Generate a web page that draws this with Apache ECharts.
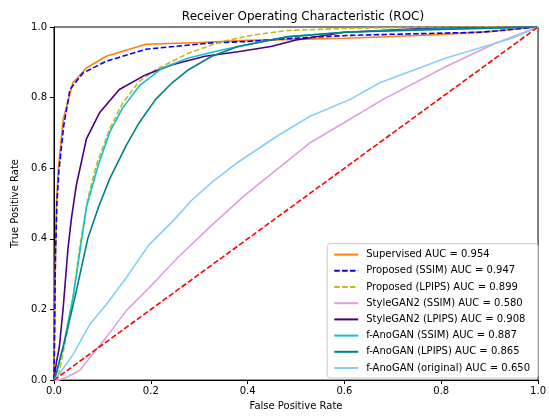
<!DOCTYPE html>
<html>
<head>
<meta charset="utf-8">
<script src="https://cdn.jsdelivr.net/npm/echarts@6/dist/echarts.min.js"></script>
<style>html,body{margin:0;padding:0;background:#fff}#c{width:549px;height:416px}</style>
</head>
<body>
<div id="c"></div>
<script>
const xTicks = [0, 0.2, 0.4, 0.6, 0.8, 1.0];
const yTicks = [0, 0.2, 0.4, 0.6, 0.8, 1.0];

const seriesNames = [
  'Supervised AUC = 0.954',
  'Proposed (SSIM) AUC = 0.947',
  'Proposed (LPIPS) AUC = 0.899',
  'StyleGAN2 (SSIM) AUC = 0.580',
  'StyleGAN2 (LPIPS) AUC = 0.908',
  'f-AnoGAN (SSIM) AUC = 0.887',
  'f-AnoGAN (LPIPS) AUC = 0.865',
  'f-AnoGAN (original) AUC = 0.650'
];

const fprSupervised = [0, 0.003, 0.005, 0.009, 0.019, 0.039, 0.067, 0.108, 0.19, 0.3, 0.4, 0.5, 0.6, 0.7, 0.8, 0.9, 1];
const tprSupervised = [0, 0.35, 0.5, 0.598, 0.739, 0.842, 0.884, 0.917, 0.951, 0.956, 0.962, 0.965, 0.968, 0.973, 0.979, 0.987, 1];

const fprPropSSIM = [0, 0.003, 0.006, 0.01, 0.02, 0.033, 0.06, 0.108, 0.19, 0.325, 0.401, 0.469, 0.605, 0.81, 0.88, 1];
const tprPropSSIM = [0, 0.35, 0.5, 0.59, 0.72, 0.823, 0.87, 0.903, 0.937, 0.955, 0.959, 0.966, 0.976, 0.983, 0.985, 1];

const fprPropLPIPS = [0, 0.006, 0.012, 0.026, 0.04, 0.053, 0.07, 0.087, 0.115, 0.142, 0.176, 0.21, 0.278, 0.346, 0.415, 0.483, 0.6, 0.75, 1];
const tprPropLPIPS = [0, 0.0, 0.03, 0.13, 0.24, 0.374, 0.514, 0.607, 0.711, 0.785, 0.846, 0.879, 0.926, 0.959, 0.978, 0.99, 0.996, 0.999, 1];

const fprStyleSSIM = [0, 0.01, 0.026, 0.053, 0.08, 0.108, 0.149, 0.196, 0.258, 0.326, 0.394, 0.462, 0.53, 0.599, 0.68, 0.81, 0.912, 1];
const tprStyleSSIM = [0, 0.0, 0.008, 0.027, 0.074, 0.121, 0.196, 0.261, 0.35, 0.439, 0.523, 0.598, 0.673, 0.729, 0.795, 0.888, 0.954, 1];

const fprStyleLPIPS = [0, 0.005, 0.011, 0.019, 0.029, 0.036, 0.046, 0.067, 0.094, 0.135, 0.19, 0.244, 0.312, 0.38, 0.448, 0.5, 0.6, 0.75, 1];
const tprStyleLPIPS = [0, 0.05, 0.093, 0.205, 0.374, 0.458, 0.551, 0.683, 0.757, 0.823, 0.865, 0.893, 0.917, 0.93, 0.945, 0.963, 0.985, 0.995, 1];

const fprAnoSSIM = [0, 0.005, 0.02, 0.04, 0.067, 0.091, 0.115, 0.142, 0.176, 0.224, 0.278, 0.346, 0.415, 0.483, 0.6, 0.75, 1];
const tprAnoSSIM = [0, 0.02, 0.1, 0.24, 0.49, 0.607, 0.702, 0.771, 0.833, 0.884, 0.912, 0.935, 0.954, 0.973, 0.985, 0.993, 1];

const fprAnoLPIPS = [0, 0.005, 0.02, 0.043, 0.07, 0.092, 0.115, 0.149, 0.176, 0.21, 0.244, 0.278, 0.326, 0.38, 0.448, 0.483, 0.6, 0.8, 1];
const tprAnoLPIPS = [0, 0.02, 0.1, 0.233, 0.402, 0.49, 0.57, 0.664, 0.729, 0.795, 0.842, 0.879, 0.917, 0.945, 0.963, 0.972, 0.985, 0.993, 1];

const fprAnoOrig = [0, 0.01, 0.04, 0.074, 0.108, 0.149, 0.196, 0.244, 0.285, 0.326, 0.38, 0.462, 0.53, 0.612, 0.673, 0.81, 0.946, 1];
const tprAnoOrig = [0, 0.015, 0.074, 0.158, 0.214, 0.289, 0.383, 0.448, 0.51, 0.56, 0.617, 0.692, 0.748, 0.795, 0.842, 0.912, 0.968, 1];

const fprChance = [0, 1];
const tprChance = [0, 1];

const colors = ['#ff7f0e', '#0000ff', '#bcbd22', '#dda0dd', '#4b0082', '#17becf', '#008080', '#87cefa'];
const dashed = [false, true, true, false, false, false, false, false];
const fprs = [fprSupervised, fprPropSSIM, fprPropLPIPS, fprStyleSSIM, fprStyleLPIPS, fprAnoSSIM, fprAnoLPIPS, fprAnoOrig];
const tprs = [tprSupervised, tprPropSSIM, tprPropLPIPS, tprStyleSSIM, tprStyleLPIPS, tprAnoSSIM, tprAnoLPIPS, tprAnoOrig];

const FONT = 'DejaVu Sans';
const series = seriesNames.map((n, i) => ({
  name: n,
  type: 'line',
  symbol: 'none',
  data: fprs[i].map((x, j) => [x, tprs[i][j]]),
  lineStyle: { color: colors[i], width: 1.6, type: dashed[i] ? [5.5, 2.4] : 'solid' },
  itemStyle: { color: colors[i] },
  z: 2 + i
}));
series.push({
  name: 'chance',
  type: 'line',
  symbol: 'none',
  data: fprChance.map((x, j) => [x, tprChance[j]]),
  lineStyle: { color: '#ff0000', width: 1.6, type: [5.5, 2.4] },
  itemStyle: { color: '#ff0000' },
  z: 20
});

const chart = echarts.init(document.getElementById('c'), null, { renderer: 'canvas' });
chart.setOption({
  animation: false,
  backgroundColor: '#fff',
  title: {
    text: 'Receiver Operating Characteristic (ROC)',
    left: 298, top: 6, textAlign: 'center',
    textStyle: { fontFamily: FONT, fontSize: 12, fontWeight: 'normal', color: '#000' }
  },
  grid: { left: 54, right: 7, top: 27, bottom: 33, show: true, borderColor: '#000', borderWidth: 1, backgroundColor: 'transparent' },
  xAxis: {
    type: 'value', min: 0, max: 1, interval: 0.2,
    name: 'False Positive Rate', nameLocation: 'middle', nameGap: 20,
    nameTextStyle: { fontFamily: FONT, fontSize: 10, color: '#000' },
    axisLine: { show: true, lineStyle: { color: '#000', width: 1 } },
    axisTick: { show: true, length: 4, lineStyle: { color: '#000' } },
    axisLabel: { fontFamily: FONT, fontSize: 10, color: '#000', margin: 6, formatter: v => v.toFixed(1) },
    splitLine: { show: false }
  },
  yAxis: {
    type: 'value', min: 0, max: 1, interval: 0.2,
    name: 'True Positive Rate', nameLocation: 'middle', nameGap: 30,
    nameTextStyle: { fontFamily: FONT, fontSize: 10, color: '#000' },
    axisLine: { show: true, lineStyle: { color: '#000', width: 1 } },
    axisTick: { show: true, length: 4, lineStyle: { color: '#000' } },
    axisLabel: { fontFamily: FONT, fontSize: 10, color: '#000', margin: 7, formatter: v => v.toFixed(1) },
    splitLine: { show: false }
  },
  legend: {
    data: seriesNames,
    orient: 'vertical',
    right: 11, bottom: 38,
    padding: [6, 8, 5, 6],
    itemWidth: 24, itemHeight: 10, itemGap: 6.2,
    itemStyle: { opacity: 0, borderWidth: 0 },
    backgroundColor: 'rgba(255,255,255,0.8)',
    borderColor: '#cccccc', borderWidth: 1, borderRadius: 3,
    textStyle: { fontFamily: FONT, fontSize: 10, color: '#000', padding: [0, 0, 0, 3] },
    selectedMode: false
  },
  series: series
});
</script>
</body>
</html>
